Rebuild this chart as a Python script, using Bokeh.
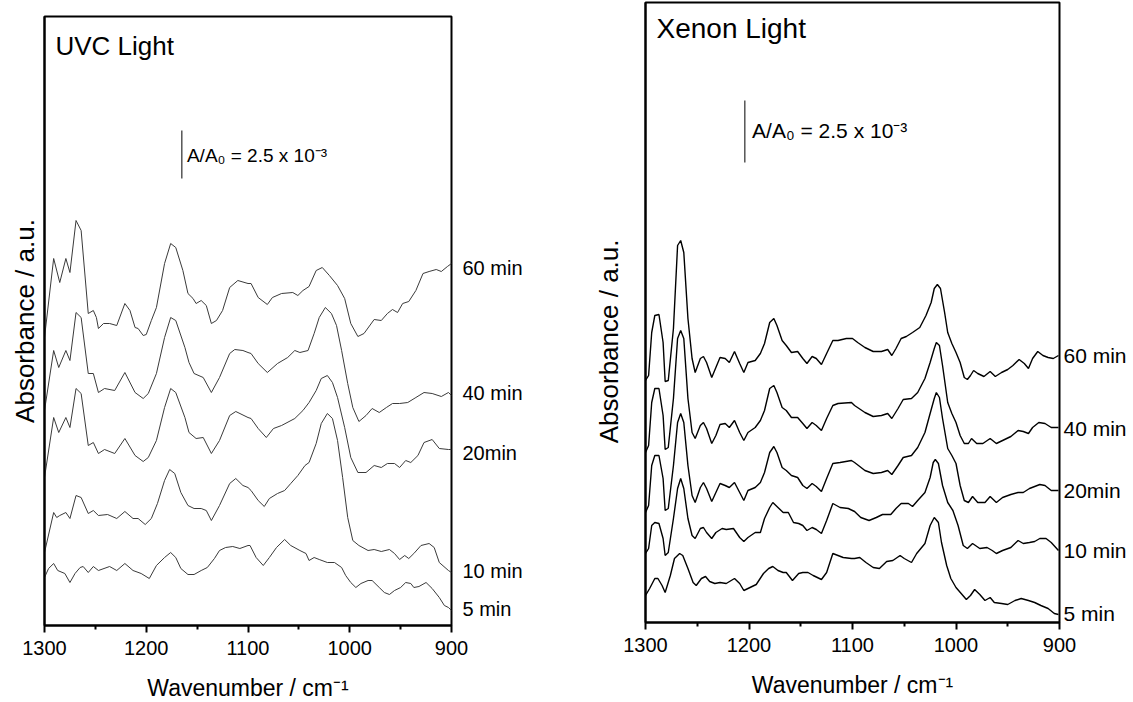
from bokeh.plotting import figure
from bokeh.layouts import row
from bokeh.models import Range1d, FixedTicker, Label, LinearAxis
from bokeh.core.properties import value
from bokeh.embed import file_html
from bokeh.resources import INLINE

FONT = "Liberation Sans"

# ---------------- UVC light (left panel), offset absorbance in a.u. ----------------
uvc_wn_60 = [1300, 1291, 1285, 1279, 1275, 1269, 1264, 1257, 1252, 1249, 1247, 1242, 1236, 1229, 1221, 1216, 1211, 1208, 1203, 1200, 1195, 1190, 1182, 1176, 1171, 1164, 1159, 1154, 1151, 1146, 1141, 1136, 1131, 1125, 1118, 1110, 1100, 1097, 1090, 1081, 1076, 1067, 1056, 1051, 1046, 1040, 1033, 1027, 1020, 1012, 1005, 999, 992, 986, 976, 969, 963, 958, 953, 948, 942, 935, 928, 922, 915, 910, 904, 900]
uvc_ab_60 = [288, 367, 343, 367, 353, 405, 395, 312, 315, 308, 297, 302, 302, 300, 322, 315, 298, 297, 290, 291, 305, 318, 362, 382, 378, 355, 332, 327, 322, 325, 320, 302, 305, 315, 338, 345, 342, 342, 328, 321, 328, 332, 333, 330, 335, 339, 355, 358, 350, 340, 327, 302, 289, 292, 306, 305, 312, 316, 313, 322, 324, 335, 352, 354, 356, 354, 359, 362]

uvc_wn_40 = [1300, 1291, 1286, 1279, 1275, 1269, 1264, 1257, 1252, 1247, 1241, 1231, 1221, 1211, 1203, 1198, 1190, 1182, 1176, 1171, 1162, 1158, 1153, 1144, 1136, 1128, 1118, 1113, 1105, 1100, 1097, 1090, 1081, 1071, 1061, 1054, 1049, 1041, 1035, 1030, 1024, 1018, 1013, 1008, 1002, 997, 991, 984, 978, 971, 964, 958, 951, 943, 935, 927, 919, 910, 903, 900]
uvc_ab_40 = [215, 275, 258, 275, 265, 313, 308, 252, 252, 233, 237, 235, 253, 233, 227, 232, 252, 288, 308, 305, 278, 263, 252, 248, 233, 248, 272, 276, 275, 273, 272, 262, 253, 262, 268, 275, 273, 275, 292, 308, 318, 312, 300, 275, 242, 218, 204, 210, 217, 213, 218, 222, 222, 223, 228, 233, 232, 229, 233, 230]

uvc_wn_20 = [1300, 1291, 1286, 1279, 1275, 1269, 1264, 1257, 1252, 1247, 1241, 1231, 1221, 1211, 1203, 1198, 1190, 1182, 1176, 1171, 1162, 1158, 1151, 1144, 1136, 1128, 1118, 1112, 1100, 1097, 1090, 1082, 1075, 1067, 1054, 1046, 1040, 1033, 1028, 1022, 1017, 1012, 1005, 999, 992, 984, 976, 969, 963, 956, 951, 945, 940, 933, 927, 919, 912, 903, 900]
uvc_ab_20 = [148, 208, 193, 208, 198, 237, 232, 180, 183, 172, 176, 172, 187, 170, 164, 168, 185, 218, 237, 233, 208, 193, 187, 188, 172, 185, 210, 214, 208, 207, 197, 188, 197, 200, 207, 215, 223, 235, 247, 250, 243, 228, 198, 168, 153, 153, 160, 158, 162, 162, 158, 165, 163, 170, 183, 186, 177, 176, 176]

uvc_wn_10 = [1300, 1291, 1288, 1285, 1279, 1275, 1269, 1264, 1257, 1252, 1247, 1238, 1229, 1221, 1213, 1208, 1201, 1195, 1189, 1182, 1177, 1172, 1166, 1159, 1153, 1146, 1141, 1136, 1128, 1118, 1112, 1105, 1100, 1097, 1090, 1084, 1079, 1071, 1064, 1058, 1051, 1044, 1040, 1033, 1028, 1022, 1017, 1012, 1007, 1002, 997, 991, 982, 976, 969, 961, 956, 951, 946, 942, 937, 930, 922, 917, 912, 903, 900]
uvc_ab_10 = [73, 113, 108, 110, 113, 107, 130, 128, 112, 115, 110, 111, 107, 114, 107, 107, 101, 107, 122, 145, 156, 152, 133, 120, 117, 117, 115, 105, 120, 142, 147, 140, 138, 135, 125, 119, 127, 132, 135, 142, 150, 160, 163, 182, 202, 212, 207, 185, 148, 108, 85, 80, 75, 76, 74, 76, 72, 66, 70, 67, 72, 80, 82, 78, 63, 55, 53]

uvc_wn_5 = [1300, 1296, 1291, 1287, 1280, 1275, 1270, 1265, 1262, 1257, 1252, 1247, 1236, 1229, 1221, 1213, 1205, 1197, 1190, 1182, 1176, 1171, 1166, 1159, 1153, 1146, 1140, 1133, 1128, 1122, 1115, 1108, 1100, 1098, 1092, 1085, 1079, 1072, 1064, 1058, 1049, 1043, 1040, 1035, 1030, 1022, 1015, 1008, 1004, 999, 994, 989, 982, 978, 971, 966, 961, 956, 950, 945, 940, 937, 932, 925, 919, 912, 907, 903, 900]
uvc_ab_5 = [48, 57, 62, 55, 52, 43, 52, 58, 59, 53, 59, 55, 59, 55, 62, 55, 52, 47, 60, 68, 73, 68, 57, 51, 51, 55, 58, 67, 75, 78, 79, 77, 80, 80, 68, 60, 68, 78, 86, 80, 75, 72, 65, 68, 66, 63, 63, 58, 50, 43, 38, 42, 45, 45, 38, 33, 31, 35, 38, 43, 42, 38, 39, 43, 37, 28, 20, 18, 15]

# ---------------- Xenon light (right panel), offset absorbance in a.u. ----------------
xe_wn_60 = [1300, 1297, 1294, 1291, 1287, 1283, 1281, 1278, 1273, 1269, 1266, 1263, 1259, 1255, 1252, 1247, 1244, 1241, 1236, 1232, 1228, 1223, 1219, 1214, 1209, 1205, 1201, 1194, 1189, 1185, 1180, 1176, 1173, 1168, 1164, 1159, 1153, 1148, 1144, 1139, 1135, 1130, 1125, 1119, 1114, 1106, 1100, 1095, 1088, 1080, 1072, 1066, 1062, 1058, 1053, 1048, 1042, 1035, 1029, 1024, 1021, 1018, 1015, 1011, 1008, 1004, 1000, 996, 992, 989, 986, 983, 979, 973, 967, 962, 956, 950, 945, 939, 934, 930, 926, 921, 916, 911, 906, 901]
xe_ab_60 = [242, 247, 290, 307, 308, 280, 241, 242, 294, 377, 382, 370, 304, 264, 250, 264, 266, 260, 245, 255, 265, 264, 260, 271, 259, 250, 260, 262, 269, 279, 300, 304, 297, 282, 277, 270, 271, 264, 259, 266, 264, 258, 269, 282, 282, 284, 284, 280, 275, 271, 271, 273, 267, 274, 284, 286, 290, 295, 307, 320, 334, 338, 334, 310, 290, 279, 270, 260, 245, 243, 247, 252, 249, 246, 251, 246, 250, 253, 257, 263, 259, 254, 264, 271, 267, 265, 264, 267]

xe_wn_40 = [1300, 1297, 1294, 1291, 1287, 1283, 1281, 1278, 1273, 1269, 1266, 1263, 1259, 1255, 1252, 1247, 1244, 1241, 1236, 1232, 1228, 1223, 1219, 1214, 1209, 1205, 1201, 1194, 1189, 1185, 1180, 1176, 1173, 1168, 1164, 1159, 1153, 1148, 1144, 1139, 1135, 1130, 1125, 1119, 1114, 1101, 1098, 1088, 1080, 1072, 1066, 1062, 1056, 1051, 1043, 1037, 1030, 1025, 1021, 1019, 1016, 1013, 1008, 1004, 1000, 996, 992, 988, 985, 980, 974, 967, 961, 955, 947, 940, 935, 930, 926, 920, 914, 908, 901]
xe_ab_40 = [170, 177, 220, 234, 234, 207, 173, 175, 224, 284, 292, 284, 224, 190, 184, 197, 200, 194, 179, 187, 198, 199, 195, 202, 190, 182, 190, 195, 202, 212, 234, 237, 230, 215, 212, 205, 205, 199, 194, 200, 197, 192, 204, 217, 219, 220, 217, 210, 206, 207, 209, 204, 214, 223, 224, 230, 244, 260, 274, 280, 277, 257, 220, 209, 200, 187, 179, 179, 184, 179, 179, 184, 179, 182, 186, 192, 191, 189, 195, 200, 199, 195, 195]

xe_wn_20 = [1300, 1297, 1294, 1291, 1287, 1283, 1281, 1278, 1273, 1269, 1266, 1263, 1259, 1255, 1252, 1247, 1244, 1241, 1236, 1232, 1228, 1223, 1219, 1214, 1209, 1205, 1201, 1194, 1189, 1185, 1180, 1176, 1173, 1168, 1164, 1159, 1153, 1148, 1144, 1139, 1135, 1130, 1125, 1119, 1112, 1101, 1098, 1088, 1080, 1072, 1066, 1062, 1056, 1051, 1043, 1037, 1030, 1025, 1021, 1019, 1016, 1013, 1008, 1004, 1000, 996, 992, 988, 984, 979, 972, 967, 961, 955, 947, 940, 935, 929, 924, 919, 914, 908, 901]
xe_ab_20 = [110, 117, 157, 167, 167, 144, 112, 114, 157, 200, 209, 200, 157, 127, 120, 135, 140, 134, 121, 130, 139, 137, 135, 140, 130, 122, 132, 135, 140, 150, 170, 176, 170, 155, 152, 147, 145, 137, 134, 139, 136, 131, 144, 159, 160, 162, 160, 152, 149, 150, 152, 148, 157, 165, 167, 175, 190, 209, 224, 230, 225, 204, 174, 167, 159, 137, 122, 120, 126, 120, 120, 126, 120, 125, 128, 130, 130, 134, 136, 138, 137, 132, 132]

xe_wn_10 = [1300, 1297, 1294, 1291, 1287, 1283, 1281, 1278, 1273, 1269, 1266, 1263, 1259, 1255, 1252, 1247, 1244, 1241, 1236, 1232, 1226, 1222, 1215, 1209, 1205, 1201, 1194, 1189, 1185, 1180, 1177, 1172, 1167, 1162, 1157, 1152, 1148, 1144, 1139, 1135, 1130, 1125, 1119, 1112, 1104, 1098, 1092, 1084, 1077, 1071, 1063, 1058, 1053, 1046, 1042, 1037, 1030, 1025, 1022, 1020, 1017, 1013, 1008, 1003, 998, 993, 989, 984, 977, 970, 965, 961, 955, 947, 940, 935, 929, 924, 919, 913, 908, 901]
xe_ab_10 = [69, 74, 97, 100, 99, 84, 67, 70, 104, 134, 144, 134, 104, 87, 84, 94, 95, 90, 84, 90, 94, 93, 94, 85, 81, 85, 90, 90, 104, 115, 120, 115, 110, 110, 100, 99, 97, 92, 95, 93, 89, 102, 119, 115, 114, 111, 105, 102, 105, 108, 108, 114, 119, 119, 116, 122, 130, 145, 160, 163, 159, 137, 120, 112, 97, 77, 74, 79, 74, 75, 72, 69, 72, 75, 82, 79, 80, 81, 84, 84, 80, 72]

xe_wn_5 = [1300, 1296, 1291, 1288, 1284, 1281, 1276, 1272, 1267, 1264, 1259, 1254, 1251, 1246, 1242, 1238, 1233, 1228, 1222, 1214, 1209, 1205, 1199, 1193, 1186, 1181, 1177, 1172, 1167, 1164, 1158, 1152, 1148, 1143, 1138, 1130, 1125, 1119, 1114, 1109, 1101, 1098, 1093, 1087, 1080, 1074, 1067, 1061, 1054, 1050, 1043, 1038, 1034, 1030, 1025, 1021, 1017, 1014, 1009, 1005, 1000, 995, 990, 986, 982, 977, 972, 967, 963, 956, 950, 943, 937, 930, 924, 918, 911, 905, 901]
xe_ab_5 = [27, 34, 44, 44, 37, 30, 47, 64, 69, 67, 54, 40, 37, 44, 46, 41, 39, 40, 39, 44, 39, 32, 35, 38, 49, 54, 56, 52, 50, 50, 42, 49, 50, 50, 47, 43, 50, 69, 67, 65, 64, 64, 65, 60, 55, 54, 61, 62, 67, 64, 60, 69, 74, 79, 97, 105, 100, 80, 57, 44, 35, 29, 23, 27, 33, 28, 22, 25, 20, 19, 18, 22, 24, 22, 20, 17, 14, 9, 8]

# ---------------- labels ----------------
x_ticks = [1300, 1200, 1100, 1000, 900]
x_minor = [1250, 1150, 1050, 950]
time_labels = ["60 min", "40 min", "20min", "10 min", "5 min"]
uvc_label_y = [358, 233, 173, 55, 17]
xe_label_y = [267, 194, 132, 72, 9]
scale_text = "A/A\u2080 = 2.5 x 10\u207b\u00b3"
uvc_bar = (1165, 447, 495)   # wavenumber, bottom, top of the 2.5e-3 scale bar
xe_bar = (1204, 460, 522)


def make_panel(frame_w, frame_h, y_end, border_left, border_right, border_top,
               border_bottom, ylabel, ylabel_standoff, curves, line_color,
               line_width, title, title_y, title_size, label_y, label_standoff,
               label_size, bar, text_x, text_y, text_size):
    p = figure(frame_width=frame_w, frame_height=frame_h, title=None,
               x_range=Range1d(1300, 900), y_range=Range1d(0, y_end),
               output_backend="svg", toolbar_location=None,
               min_border_left=border_left, min_border_right=border_right,
               min_border_top=border_top, min_border_bottom=border_bottom,
               background_fill_color="white", border_fill_color="white")
    p.frame_align = False
    p.xgrid.visible = False
    p.ygrid.visible = False
    p.outline_line_color = "black"
    p.outline_line_width = 2
    p.outline_line_alpha = 1.0

    xa = p.xaxis[0]
    xa.ticker = FixedTicker(ticks=x_ticks, minor_ticks=x_minor)
    xa.major_tick_out = 7
    xa.major_tick_in = 0
    xa.minor_tick_out = 4
    xa.minor_tick_in = 0
    xa.major_tick_line_width = 2
    xa.minor_tick_line_width = 2
    xa.axis_line_width = 2
    xa.major_label_text_font = FONT
    xa.major_label_text_font_size = "20px"
    xa.major_label_text_color = "black"
    xa.major_label_standoff = 8
    xa.axis_label = "Wavenumber / cm\u207b\u00b9"
    xa.axis_label_text_font = FONT
    xa.axis_label_text_font_size = "23px"
    xa.axis_label_text_font_style = "normal"
    xa.axis_label_text_color = "black"
    xa.axis_label_standoff = 17

    ya = p.yaxis[0]
    ya.ticker = FixedTicker(ticks=[])
    ya.major_tick_out = 0
    ya.major_tick_in = 0
    ya.minor_tick_out = 0
    ya.minor_tick_in = 0
    ya.major_label_text_font_size = "0px"
    ya.axis_line_width = 2
    ya.axis_label = ylabel
    ya.axis_label_text_font = FONT
    ya.axis_label_text_font_size = "26px"
    ya.axis_label_text_font_style = "normal"
    ya.axis_label_text_color = "black"
    ya.axis_label_standoff = ylabel_standoff

    # time labels on an extra right-hand axis (outside the frame)
    ra = LinearAxis(ticker=FixedTicker(ticks=label_y, minor_ticks=[]),
                    major_label_overrides={yy: txt for yy, txt in zip(label_y, time_labels)},
                    axis_line_color=None, major_tick_line_color=None,
                    minor_tick_line_color=None, major_tick_out=0, major_tick_in=0,
                    minor_tick_out=0, minor_tick_in=0,
                    major_label_standoff=label_standoff,
                    major_label_text_font=FONT, major_label_text_font_size=label_size,
                    major_label_text_color="black")
    p.add_layout(ra, "right")

    for wn, ab in curves:
        p.line(wn, ab, line_color=line_color, line_width=line_width)

    p.add_layout(Label(x=1300, y=title_y, x_offset=11, text=title,
                       text_font=FONT, text_font_size=title_size,
                       text_baseline="middle", text_color="black"))

    p.segment(x0=[bar[0]], y0=[bar[1]], x1=[bar[0]], y1=[bar[2]],
              line_color="black", line_width=1)
    p.text(x=[text_x], y=[text_y], text=[scale_text],
           text_font=value(FONT), text_font_size=text_size,
           text_baseline="middle", text_align="left", text_color="black")
    return p


left = make_panel(407, 609, 609, 44, 110, 16, 76, "Absorbance / a.u.", 5,
                  [(uvc_wn_60, uvc_ab_60), (uvc_wn_40, uvc_ab_40), (uvc_wn_20, uvc_ab_20),
                   (uvc_wn_10, uvc_ab_10), (uvc_wn_5, uvc_ab_5)],
                  "#3a3a3a", 1.0, "UVC Light", 580, "26px", uvc_label_y, 11, "20px",
                  uvc_bar, 1160, 470, "19px")

right = make_panel(414, 620, 620, 84, 72, 2, 79,
                   "Absorbance / a.u." + "\u00a0" * 8, 22,
                   [(xe_wn_60, xe_ab_60), (xe_wn_40, xe_ab_40), (xe_wn_20, xe_ab_20),
                    (xe_wn_10, xe_ab_10), (xe_wn_5, xe_ab_5)],
                   "black", 1.4, "Xenon Light", 594, "28px", xe_label_y, 4, "21px",
                   xe_bar, 1197, 492, "21px")

layout = row(left, right)
open("out.html", "w").write(file_html(layout, INLINE))
